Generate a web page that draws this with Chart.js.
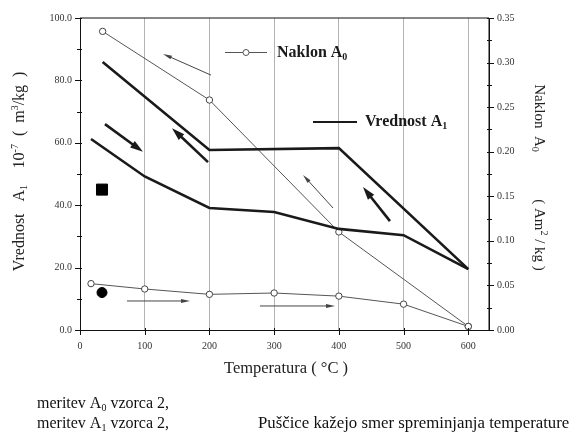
<!DOCTYPE html>
<html>
<head>
<meta charset="utf-8">
<script src="https://cdn.jsdelivr.net/npm/chart.js@4"></script>
<style>
  body { margin: 0; background: #fff; }
</style>
</head>
<body>
<canvas id="c" width="572" height="437"></canvas>
<script>
'use strict'

// temperatures (°C)
const tempsHeat = [17, 100, 200, 300, 400, 500, 600];
const tempsCool = [600, 400, 200, 35];

// Vrednost A1 (10^-7 m3/kg), left axis
const a1Heat = [61.2, 49.2, 39.1, 37.8, 32.4, 30.4, 19.5];
const a1Cool = [19.5, 58.3, 57.7, 85.9];

// Naklon A0 (Am2/kg), right axis
const a0Heat = [0.052, 0.046, 0.040, 0.0415, 0.038, 0.029, 0.004];
const a0Cool = [0.004, 0.110, 0.258, 0.335];

// sample markers (meritev A0 / A1 vzorca 2)
const markTemp = [34];
const markSquare = [45];
const markCircle = [12];

// direction arrows [tailT, tailA1, headT, headA1]
const thickArrows = [[38.6, 66.0, 97.3, 57.1], [197.8, 53.8, 142.2, 64.7], [479, 34.9, 437.3, 45.8]];
const thinArrows = [[202.4, 81.7, 128.3, 88.5], [391, 39.1, 344.6, 49.7], [72.6, 9.3, 170, 9.3], [278, 7.7, 394, 7.7]];

const SERIF = "'Liberation Serif', 'DejaVu Serif', serif";

function pts(xs, ys) {
    return xs.map((v, i) => ({ x: v, y: ys[i] }));
}

// draws text made of parts [text, size, dy, bold]
function richText(ctx, parts, x, y, align) {
    let w = 0;
    parts.forEach(p => {
        ctx.font = (p[3] ? 'bold ' : '') + p[1] + 'px ' + SERIF;
        w += ctx.measureText(p[0]).width;
    });
    let cx = align === 'center' ? x - w / 2 : x;
    parts.forEach(p => {
        ctx.font = (p[3] ? 'bold ' : '') + p[1] + 'px ' + SERIF;
        ctx.fillText(p[0], cx, y + p[2]);
        cx += ctx.measureText(p[0]).width;
    });
}

function arrow(ctx, x1, y1, x2, y2, lw, hl, hw, color) {
    const ang = Math.atan2(y2 - y1, x2 - x1);
    ctx.strokeStyle = color;
    ctx.fillStyle = color;
    ctx.lineWidth = lw;
    ctx.beginPath();
    ctx.moveTo(x1, y1);
    ctx.lineTo(x2 - Math.cos(ang) * hl * 0.8, y2 - Math.sin(ang) * hl * 0.8);
    ctx.stroke();
    ctx.beginPath();
    ctx.moveTo(x2, y2);
    ctx.lineTo(x2 - Math.cos(ang) * hl - Math.sin(ang) * hw / 2, y2 - Math.sin(ang) * hl + Math.cos(ang) * hw / 2);
    ctx.lineTo(x2 - Math.cos(ang) * hl + Math.sin(ang) * hw / 2, y2 - Math.sin(ang) * hl - Math.cos(ang) * hw / 2);
    ctx.closePath();
    ctx.fill();
}

const deco = {
    id: 'deco',
    afterDraw(chart) {
        const ctx = chart.ctx;
        const a = chart.chartArea;
        const x = chart.scales.x, y = chart.scales.y, y1 = chart.scales.y1;
        ctx.save();
        ctx.strokeStyle = '#111';
        ctx.lineWidth = 1;
        ctx.beginPath();
        ctx.moveTo(a.left, a.top);
        ctx.lineTo(a.right, a.top);
        ctx.lineTo(a.right, a.bottom);
        ctx.stroke();

        // tick marks
        ctx.beginPath();
        for (let v = 0; v <= 100; v += 10) {
            const p = Math.round(y.getPixelForValue(v)) + 0.5;
            const len = v % 20 === 0 ? 5 : 3;
            ctx.moveTo(a.left - len, p);
            ctx.lineTo(a.left + 2, p);
        }
        for (let i = 0; i <= 14; i++) {
            const p = Math.round(y1.getPixelForValue(i * 0.025)) + 0.5;
            const len = i % 2 === 0 ? 5 : 3;
            ctx.moveTo(a.right - 2, p);
            ctx.lineTo(a.right + len, p);
        }
        for (let v = 0; v <= 600; v += 100) {
            const p = Math.round(x.getPixelForValue(v)) + 0.5;
            ctx.moveTo(p, a.bottom - 2);
            ctx.lineTo(p, a.bottom + 5);
        }
        ctx.stroke();

        // arrows
        thickArrows.forEach(r => arrow(ctx, x.getPixelForValue(r[0]), y.getPixelForValue(r[1]),
            x.getPixelForValue(r[2]), y.getPixelForValue(r[3]), 2.6, 13, 8, '#1a1a1a'));
        thinArrows.forEach(r => arrow(ctx, x.getPixelForValue(r[0]), y.getPixelForValue(r[1]),
            x.getPixelForValue(r[2]), y.getPixelForValue(r[3]), 1, 9, 4, '#444'));

        // legend inside plot
        ctx.strokeStyle = '#555';
        ctx.lineWidth = 1;
        ctx.beginPath();
        ctx.moveTo(225, 52.5);
        ctx.lineTo(267, 52.5);
        ctx.stroke();
        ctx.fillStyle = '#fff';
        ctx.beginPath();
        ctx.arc(246, 52.5, 3, 0, Math.PI * 2);
        ctx.fill();
        ctx.stroke();
        ctx.strokeStyle = '#1a1a1a';
        ctx.lineWidth = 2;
        ctx.beginPath();
        ctx.moveTo(313, 122);
        ctx.lineTo(357, 122);
        ctx.stroke();

        ctx.fillStyle = '#1a1a1a';
        ctx.textBaseline = 'middle';
        richText(ctx, [['Naklon A', 16, 0, true], ['0', 10, 4, true]], 277, 53, 'left');
        richText(ctx, [['Vrednost A', 16, 0, true], ['1', 10, 4, true]], 365, 122, 'left');

        // axis titles
        ctx.fillStyle = '#222';
        richText(ctx, [['Temperatura ( °C )', 16.5, 0]], 286, 369, 'center');

        ctx.save();
        ctx.translate(20, 0);
        ctx.rotate(-Math.PI / 2);
        richText(ctx, [['Vrednost   A', 16, 0], ['1', 10, 4]], -228, 0, 'center');
        richText(ctx, [['10', 16, 0], ['-7', 10, -5], ['  (  m', 16, 0], ['3', 10, -5], ['/kg  )', 16, 0]], -120, 0, 'center');
        ctx.restore();

        ctx.save();
        ctx.translate(539, 0);
        ctx.rotate(Math.PI / 2);
        richText(ctx, [['Naklon  A', 15, 0], ['0', 10, 4]], 118, 0, 'center');
        richText(ctx, [['( Am', 15, 0], ['2', 10, -5], [' / kg )', 15, 0]], 235, 0, 'center');
        ctx.restore();

        // notes under the chart
        ctx.fillStyle = '#111';
        richText(ctx, [['meritev A', 16, 0], ['0', 10, 4], [' vzorca 2,', 16, 0]], 37, 404, 'left');
        richText(ctx, [['meritev A', 16, 0], ['1', 10, 4], [' vzorca 2,', 16, 0]], 37, 424, 'left');
        richText(ctx, [['Puščice kažejo smer spreminjanja temperature', 16.8, 0]], 258, 424, 'left');
        ctx.restore();
    }
};

const tickFont = { family: SERIF, size: 10 };

new Chart(document.getElementById('c'), {
    type: 'scatter',
    data: {
        datasets: [
            { data: pts(tempsHeat, a1Heat), showLine: true, borderColor: '#1a1a1a', borderWidth: 2.6, pointRadius: 0, yAxisID: 'y' },
            { data: pts(tempsCool, a1Cool), showLine: true, borderColor: '#1a1a1a', borderWidth: 2.6, pointRadius: 0, yAxisID: 'y' },
            { data: pts(tempsHeat, a0Heat), showLine: true, borderColor: '#555', borderWidth: 1, pointRadius: 3.2,
              pointBackgroundColor: '#fff', pointBorderColor: '#444', pointBorderWidth: 1, yAxisID: 'y1' },
            { data: pts(tempsCool, a0Cool), showLine: true, borderColor: '#555', borderWidth: 1, pointRadius: 3.2,
              pointBackgroundColor: '#fff', pointBorderColor: '#444', pointBorderWidth: 1, yAxisID: 'y1' },
            { data: pts(markTemp, markSquare), pointStyle: 'rect', pointRadius: 7.8, backgroundColor: '#000', borderColor: '#000', yAxisID: 'y' },
            { data: pts(markTemp, markCircle), pointStyle: 'circle', pointRadius: 5, backgroundColor: '#000', borderColor: '#000', yAxisID: 'y' }
        ]
    },
    options: {
        responsive: false,
        animation: false,
        layout: { padding: { top: 18, left: 0, right: 0, bottom: 0 } },
        plugins: { legend: { display: false }, tooltip: { enabled: false } },
        scales: {
            x: {
                type: 'linear', min: 0, max: 632,
                afterFit: function (s) { s.height = 107 },
                ticks: { stepSize: 100, includeBounds: false, font: tickFont, color: '#333', padding: 10 },
                grid: { color: '#a0a0a0', lineWidth: 0.8, drawTicks: false },
                border: { color: '#111', width: 1 }
            },
            y: {
                position: 'left', min: 0, max: 100,
                afterFit: function (s) { s.width = 80 },
                ticks: { stepSize: 20, font: tickFont, color: '#333', padding: 8, callback: v => v.toFixed(1) },
                grid: { display: false, drawTicks: false },
                border: { color: '#111', width: 1 }
            },
            y1: {
                position: 'right', min: 0, max: 0.35,
                afterFit: function (s) { s.width = 83 },
                ticks: { stepSize: 0.05, font: tickFont, color: '#333', padding: 8, callback: v => v.toFixed(2) },
                grid: { display: false, drawTicks: false },
                border: { color: '#111', width: 1 }
            }
        }
    },
    plugins: [deco]
});
</script>
</body>
</html>
